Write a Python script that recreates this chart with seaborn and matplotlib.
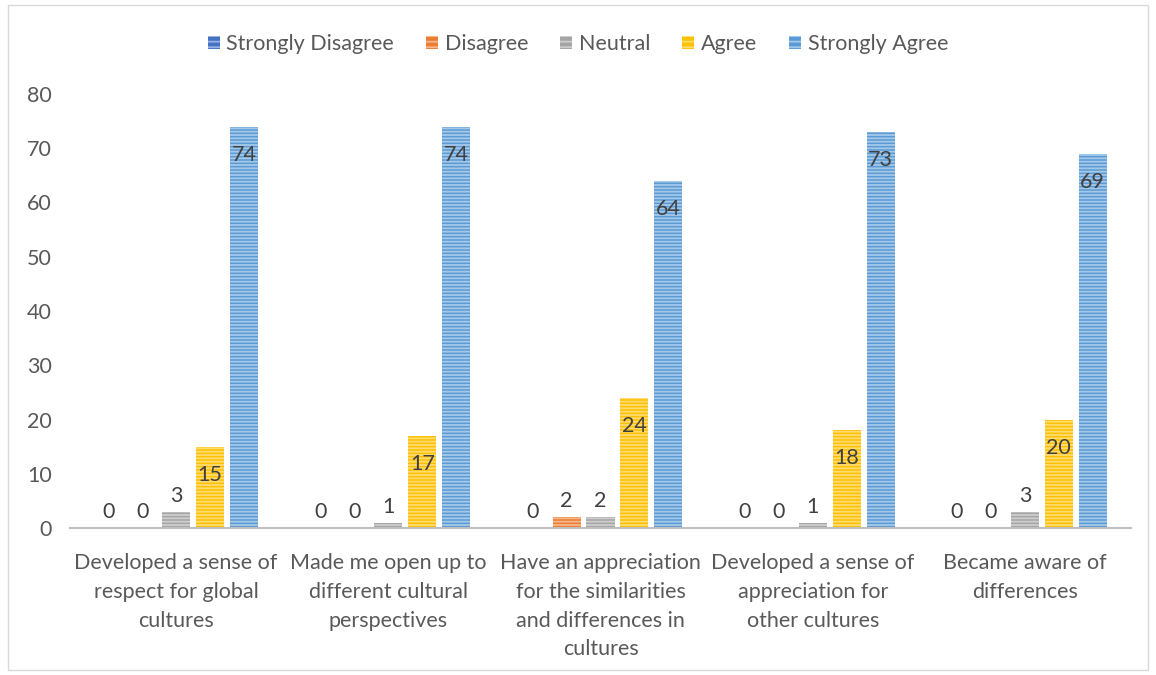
import matplotlib
matplotlib.use("Agg")
import matplotlib.pyplot as plt
import seaborn as sns
import pandas as pd
from matplotlib.patches import Rectangle, Patch

categories = [
    "Developed a sense of\nrespect for global\ncultures",
    "Made me open up to\ndifferent cultural\nperspectives",
    "Have an appreciation\nfor the similarities\nand differences in\ncultures",
    "Developed a sense of\nappreciation for\nother cultures",
    "Became aware of\ndifferences",
]
responses = ["Strongly Disagree", "Disagree", "Neutral", "Agree", "Strongly Agree"]
strongly_disagree = [0, 0, 0, 0, 0]
disagree = [0, 0, 2, 0, 0]
neutral = [3, 1, 2, 1, 3]
agree = [15, 17, 24, 18, 20]
strongly_agree = [74, 74, 64, 73, 69]
y_ticks = [0, 10, 20, 30, 40, 50, 60, 70, 80]

colors = ["#4472C4", "#ED7D31", "#A5A5A5", "#FFC000", "#5B9BD5"]
series = [strongly_disagree, disagree, neutral, agree, strongly_agree]

rows = []
for r, vals in zip(responses, series):
    for c, v in zip(categories, vals):
        rows.append({"Category": c, "Response": r, "Value": v})
df = pd.DataFrame(rows)

sns.set_theme(style="white")
plt.rcParams["font.family"] = ["Lato", "DejaVu Sans"]
plt.rcParams["hatch.linewidth"] = 1.3

FS = 15.5
fig = plt.figure(figsize=(11.56, 6.75), dpi=100)
ax = fig.add_axes([70 / 1156, (675 - 528) / 675, (1131 - 70) / 1156, (528 - 94) / 675])

sns.barplot(data=df, x="Category", y="Value", hue="Response", hue_order=responses,
            order=categories, palette=colors, width=0.8, gap=0.175, ax=ax,
            legend=False, errorbar=None, saturation=1)

for container, col in zip(ax.containers, colors):
    for bar in container:
        bar.set_hatch("-----")
        bar.set_edgecolor((1, 1, 1, 0.45))
        bar.set_linewidth(0)
    for bar in container:
        h = bar.get_height()
        xc = bar.get_x() + bar.get_width() / 2
        if h >= 10:
            ax.annotate(f"{int(h)}", (xc, h), xytext=(0, -28), textcoords="offset pixels",
                        ha="center", va="center", fontsize=FS, color="#404040")
        else:
            ax.annotate(f"{int(h)}", (xc, h), xytext=(0, 16), textcoords="offset pixels",
                        ha="center", va="center", fontsize=FS, color="#404040")

ax.set_xlim(-0.5, 4.5)
ax.set_ylim(0, 80)
ax.set_yticks(y_ticks)
ax.set_yticklabels([str(t) for t in y_ticks])
ax.set_xlabel("")
ax.set_ylabel("")
ax.tick_params(axis="both", length=0, labelsize=FS, colors="#595959")
ax.tick_params(axis="y", pad=13)
ax.tick_params(axis="x", pad=18)
for s in ["top", "right", "left"]:
    ax.spines[s].set_visible(False)
ax.spines["bottom"].set_color("#BFBFBF")
ax.spines["bottom"].set_linewidth(1.5)
for lbl in ax.get_xticklabels():
    lbl.set_linespacing(1.55)

handles = [Patch(facecolor=c, edgecolor=(1, 1, 1, 0.45), hatch="---", linewidth=0) for c in colors]
fig.legend(handles, responses, loc="center", bbox_to_anchor=(0.5, (675 - 44) / 675), ncol=5,
           frameon=False, fontsize=FS, labelcolor="#595959", handlelength=0.55, handleheight=0.6,
           handletextpad=0.3, columnspacing=1.5)

fig.patches.append(Rectangle((8 / 1156, 5 / 675), (1148 - 8) / 1156, (670 - 5) / 675,
                             transform=fig.transFigure, fill=False, edgecolor="#D9D9D9", linewidth=1))

fig.savefig("out.png", dpi=100)
